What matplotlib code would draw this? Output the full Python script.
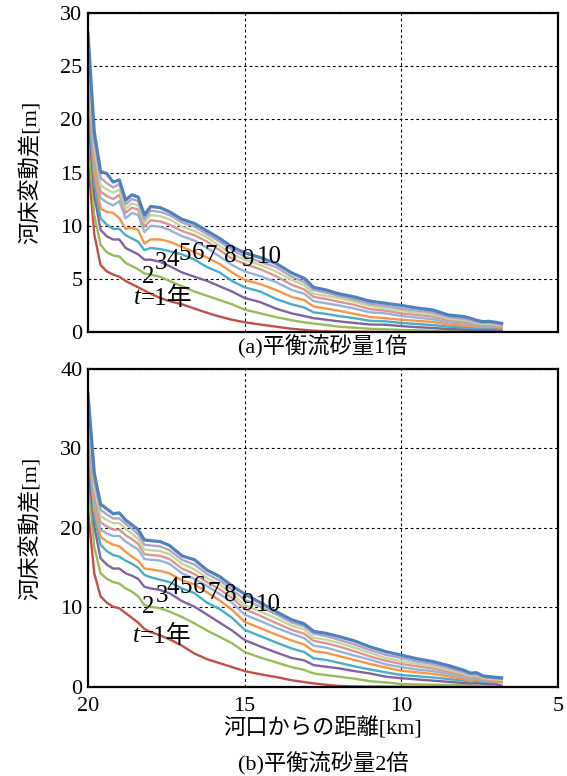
import matplotlib
matplotlib.use("Agg")
import matplotlib.pyplot as plt

# ---------------- data ----------------
km = [20.0, 19.8, 19.6, 19.4, 19.2, 19.0, 18.8, 18.6, 18.4, 18.2, 18.0, 17.7, 17.4, 17.0,
      16.6, 16.2, 15.8, 15.4, 15.0, 14.5, 14.0, 13.5, 13.1, 12.8, 12.4, 12.0, 11.5, 11.0,
      10.5, 10.0, 9.5, 9.0, 8.5, 8.0, 7.8, 7.6, 7.4, 7.2, 7.0, 6.8]

years = [1, 2, 3, 4, 5, 6, 7, 8, 9, 10]

# (a) equilibrium sediment x1
a_t1 = [16.2, 9.2, 6.3, 5.7, 5.4, 5.2, 4.8, 4.5, 4.2, 3.9, 3.6, 3.2, 2.9, 2.6, 2.2, 1.8, 1.45, 1.15, 0.92, 0.7,
        0.5, 0.3, 0.2, 0.12, 0.06, 0.03, 0.02, 0.01, 0.01, 0.0, 0.0, 0.0, 0.0, 0.0, 0.0, 0.0, 0.0, 0.0, 0.0, 0.0]
a_t2 = [18.8, 11.0, 8.2, 7.5, 7.2, 7.1, 6.5, 6.2, 5.9, 5.5, 5.4, 5.2, 4.8, 4.3, 3.8, 3.4, 3.0, 2.6, 2.1, 1.75,
        1.4, 1.1, 0.9, 0.8, 0.65, 0.5, 0.4, 0.3, 0.25, 0.2, 0.15, 0.12, 0.1, 0.08, 0.07, 0.06, 0.06, 0.06, 0.05, 0.04]
a_t3 = [20.9, 12.9, 9.6, 9.0, 8.7, 8.7, 7.9, 7.6, 7.3, 6.8, 6.8, 6.6, 6.2, 5.6, 5.2, 4.8, 4.3, 3.8, 3.2, 2.8,
        2.2, 1.75, 1.5, 1.3, 1.15, 1.0, 0.85, 0.7, 0.68, 0.55, 0.45, 0.38, 0.28, 0.24, 0.22, 0.2, 0.2, 0.2, 0.18, 0.1]
a_t4 = [22.3, 14.0, 10.7, 10.1, 9.7, 9.7, 9.1, 8.8, 8.5, 7.7, 7.9, 7.8, 7.6, 7.3, 6.8, 6.1, 5.6, 4.8, 4.2, 3.8,
        3.1, 2.6, 2.3, 1.85, 1.7, 1.5, 1.3, 1.05, 1.0, 0.85, 0.75, 0.65, 0.5, 0.42, 0.38, 0.35, 0.32, 0.33, 0.32, 0.3]
a_t5 = [24.0, 15.0, 11.6, 11.3, 11.2, 10.7, 9.7, 9.8, 9.6, 8.3, 8.7, 8.7, 8.5, 8.0, 7.5, 7.0, 6.4, 5.6, 4.9, 4.5,
        3.95, 3.3, 3.0, 2.4, 2.2, 2.0, 1.7, 1.4, 1.3, 1.15, 1.05, 0.95, 0.7, 0.6, 0.55, 0.5, 0.45, 0.48, 0.44, 0.42]
a_t6 = [24.8, 16.2, 12.6, 12.2, 11.9, 12.3, 10.7, 11.2, 11.0, 9.4, 10.0, 9.9, 9.6, 9.0, 8.6, 7.9, 7.1, 6.3, 5.7, 5.25,
        4.7, 3.95, 3.6, 2.9, 2.7, 2.5, 2.2, 1.85, 1.75, 1.5, 1.35, 1.2, 0.9, 0.8, 0.72, 0.62, 0.55, 0.58, 0.52, 0.5]
a_t7 = [25.4, 16.8, 13.2, 12.8, 12.5, 12.9, 11.2, 11.7, 11.5, 9.9, 10.5, 10.4, 10.1, 9.5, 9.1, 8.5, 7.7, 6.9, 6.4, 5.9,
        5.25, 4.45, 4.0, 3.3, 3.1, 2.85, 2.55, 2.15, 2.0, 1.75, 1.6, 1.45, 1.1, 0.97, 0.88, 0.75, 0.65, 0.68, 0.6, 0.55]
a_t8 = [26.0, 17.4, 13.8, 13.4, 13.1, 13.4, 11.6, 12.1, 11.9, 10.3, 11.0, 10.9, 10.6, 9.9, 9.5, 8.9, 8.1, 7.3, 6.8, 6.3,
        5.7, 4.9, 4.4, 3.6, 3.4, 3.2, 2.85, 2.45, 2.25, 2.0, 1.8, 1.65, 1.25, 1.1, 1.0, 0.85, 0.75, 0.78, 0.7, 0.62]
a_t9 = [26.8, 18.0, 14.5, 14.0, 13.6, 13.9, 12.0, 12.5, 12.3, 10.6, 11.4, 11.3, 11.0, 10.3, 9.9, 9.2, 8.5, 7.7, 7.1, 6.6,
        6.1, 5.2, 4.7, 3.95, 3.7, 3.4, 3.05, 2.65, 2.45, 2.2, 2.0, 1.85, 1.4, 1.25, 1.12, 0.95, 0.85, 0.88, 0.8, 0.7]
a_t10 = [28.1, 18.8, 15.1, 14.9, 14.1, 14.3, 12.4, 12.9, 12.7, 11.0, 11.8, 11.7, 11.3, 10.6, 10.2, 9.5, 8.8, 8.0, 7.45, 7.0,
         6.45, 5.55, 5.05, 4.2, 3.95, 3.6, 3.3, 2.9, 2.7, 2.5, 2.25, 2.07, 1.6, 1.45, 1.3, 1.1, 0.97, 1.0, 0.92, 0.8]

# (b) equilibrium sediment x2
b_t1 = [22.3, 14.3, 11.4, 10.6, 10.1, 9.9, 9.3, 8.7, 8.1, 7.3, 6.9, 6.5, 6.0, 5.2, 4.2, 3.5, 3.0, 2.5, 2.0, 1.6,
        1.25, 0.85, 0.62, 0.45, 0.28, 0.14, 0.08, 0.05, 0.04, 0.03, 0.02, 0.02, 0.01, 0.01, 0.0, 0.0, 0.0, 0.0, 0.0, 0.0]
b_t2 = [26.2, 17.6, 14.3, 13.6, 13.2, 13.0, 12.4, 12.0, 11.4, 10.3, 10.1, 9.9, 9.5, 8.8, 8.0, 7.1, 6.3, 5.5, 4.4, 3.7,
        3.1, 2.5, 2.15, 1.7, 1.5, 1.3, 1.05, 0.72, 0.58, 0.38, 0.32, 0.28, 0.25, 0.22, 0.2, 0.2, 0.19, 0.18, 0.17, 0.12]
b_t3 = [28.0, 20.2, 16.2, 15.4, 14.9, 14.9, 14.3, 14.0, 13.6, 12.6, 12.4, 12.2, 11.8, 10.8, 10.1, 9.1, 8.1, 7.1, 5.9, 5.1,
        4.35, 3.65, 3.35, 2.75, 2.55, 2.35, 2.0, 1.7, 1.3, 1.1, 0.95, 0.8, 0.65, 0.5, 0.45, 0.48, 0.42, 0.4, 0.38, 0.15]
b_t4 = [30.0, 21.4, 17.9, 17.1, 16.6, 16.4, 15.9, 15.5, 15.0, 14.1, 13.8, 13.5, 13.2, 12.4, 11.8, 10.6, 9.8, 8.7, 7.2, 6.4,
        5.6, 4.85, 4.4, 3.6, 3.4, 3.05, 2.6, 2.2, 1.85, 1.5, 1.35, 1.2, 1.0, 0.8, 0.7, 0.75, 0.65, 0.62, 0.6, 0.57]
b_t5 = [31.5, 22.5, 18.9, 18.3, 17.9, 17.7, 17.0, 16.4, 15.9, 14.9, 14.8, 14.6, 14.3, 13.4, 12.9, 11.9, 10.9, 9.7, 8.2, 7.4,
        6.6, 5.85, 5.35, 4.5, 4.3, 3.9, 3.4, 2.9, 2.45, 2.05, 1.85, 1.65, 1.35, 1.0, 0.85, 0.95, 0.78, 0.72, 0.68, 0.65]
b_t6 = [33.0, 23.5, 19.8, 19.3, 19.0, 19.0, 18.3, 17.8, 17.3, 16.1, 16.0, 15.9, 15.5, 14.3, 13.6, 12.7, 11.7, 10.6, 9.1, 8.3,
        7.45, 6.7, 6.15, 5.2, 4.95, 4.5, 3.95, 3.45, 2.85, 2.5, 2.2, 2.0, 1.65, 1.25, 1.1, 1.15, 0.9, 0.82, 0.78, 0.74]
b_t7 = [34.0, 24.4, 20.7, 20.2, 19.8, 19.8, 19.1, 18.6, 18.0, 16.7, 16.6, 16.5, 16.1, 14.9, 14.2, 13.2, 12.3, 11.2, 9.8, 8.95,
        8.05, 7.2, 6.7, 5.8, 5.5, 5.1, 4.5, 3.85, 3.3, 2.9, 2.6, 2.35, 1.9, 1.45, 1.25, 1.3, 1.0, 0.92, 0.87, 0.82]
b_t8 = [35.0, 25.2, 21.5, 21.0, 20.6, 20.6, 19.9, 19.3, 18.6, 17.3, 17.2, 17.1, 16.7, 15.5, 14.8, 13.7, 12.9, 11.7, 10.3, 9.5,
        8.65, 7.7, 7.25, 6.2, 5.95, 5.55, 4.95, 4.3, 3.65, 3.25, 2.9, 2.6, 2.15, 1.65, 1.4, 1.45, 1.12, 1.02, 0.96, 0.9]
b_t9 = [36.0, 26.0, 22.3, 21.7, 21.2, 21.2, 20.5, 19.9, 19.2, 17.9, 17.8, 17.7, 17.2, 16.0, 15.4, 14.2, 13.4, 12.2, 11.0, 10.1,
        9.15, 8.1, 7.65, 6.7, 6.4, 5.95, 5.35, 4.65, 4.05, 3.65, 3.2, 2.9, 2.4, 1.85, 1.55, 1.6, 1.25, 1.15, 1.08, 1.02]
b_t10 = [36.9, 26.9, 23.0, 22.4, 21.8, 21.9, 21.0, 20.4, 19.8, 18.5, 18.4, 18.3, 17.8, 16.5, 16.0, 14.7, 13.9, 12.7, 11.7, 10.6,
         9.5, 8.45, 7.95, 7.0, 6.75, 6.35, 5.8, 5.05, 4.45, 4.0, 3.55, 3.2, 2.7, 2.1, 1.75, 1.8, 1.4, 1.3, 1.22, 1.15]

series_a = [a_t1, a_t2, a_t3, a_t4, a_t5, a_t6, a_t7, a_t8, a_t9, a_t10]
series_b = [b_t1, b_t2, b_t3, b_t4, b_t5, b_t6, b_t7, b_t8, b_t9, b_t10]

year_labels = ["2", "3", "4", "5", "6", "7", "8", "9", "10"]
label_pos_a = [(18.08, 5.17), (17.66, 6.48), (17.28, 6.77), (16.9, 7.3), (16.5, 7.43),
               (16.1, 7.17), (15.47, 7.12), (14.92, 6.8), (14.22, 7.08)]
label_pos_b = [(18.08, 10.0), (17.64, 11.5), (17.28, 12.4), (16.89, 12.6), (16.46, 12.6),
               (15.98, 11.8), (15.47, 11.6), (14.92, 10.4), (14.24, 10.3)]
t1_pos_a = (18.31, 3.2)
t1_pos_b = (18.34, 6.4)

colors = ["#C0504D", "#9BBB59", "#8064A2", "#4BACC6", "#F79646",
          "#95B3D7", "#D99694", "#C3D69B", "#B3A2C7", "#4F81BD"]

FAM = ["Liberation Serif", "Noto Sans CJK JP", "DejaVu Sans"]
plt.rcParams["font.family"] = FAM
FS = 16
LFS = 18

fig = plt.figure(figsize=(5.67, 7.76), dpi=100)
axa = fig.add_axes([0.1552, 0.5722, 0.8289, 0.4110])
axb = fig.add_axes([0.1552, 0.1147, 0.8289, 0.4098])


def style(ax, ymax, ystep, show_x):
    ax.set_xlim(20, 5)
    ax.set_ylim(0, ymax)
    ax.set_xticks([20, 15, 10, 5])
    ax.set_yticks(list(range(0, ymax + 1, ystep)))
    ax.grid(True, color="black", linestyle=(0, (2.5, 2.5)), linewidth=0.8)
    ax.set_axisbelow(True)
    ax.tick_params(length=0, labelsize=FS, pad=4)
    if not show_x:
        ax.tick_params(axis="x", labelbottom=False)
    else:
        ax.tick_params(axis="x", pad=7)
    for s in ax.spines.values():
        s.set_linewidth(1.6)
        s.set_color("black")
        s.set_zorder(5)


for ax, series, ymax, ystep, show_x, lpos, tpos in [
        (axa, series_a, 30, 5, False, label_pos_a, t1_pos_a),
        (axb, series_b, 40, 10, True, label_pos_b, t1_pos_b)]:
    style(ax, ymax, ystep, show_x)
    for i, (yr, vals) in enumerate(zip(years, series)):
        ax.plot(km, vals, color=colors[i], lw=2.3 if yr == 10 else 1.7,
                solid_joinstyle="round", zorder=3)
    for lab, (x, y) in zip(year_labels, lpos):
        ax.text(x, y, lab, fontsize=LFS, ha="center", va="center", zorder=4)
    ax.text(tpos[0], tpos[1], "t", fontsize=LFS, style="italic", ha="right", va="center",
            family=["Liberation Serif"], zorder=4)
    ax.text(tpos[0], tpos[1], "=1年", fontsize=LFS, ha="left", va="center", family=FAM, zorder=4)

fig.text(0.0547, 1 - 172.5 / 776, "河床変動差[m]", rotation=90, fontsize=FS,
         ha="center", va="center")
fig.text(0.0547, 1 - 528 / 776, "河床変動差[m]", rotation=90, fontsize=FS,
         ha="center", va="center")
fig.text(323 / 567, 1 - 347 / 776, "(a)平衡流砂量1倍", fontsize=FS, ha="center", va="center")
fig.text(323 / 567, 1 - 728 / 776, "河口からの距離[km]", fontsize=FS, ha="center", va="center")
fig.text(323 / 567, 1 - 764 / 776, "(b)平衡流砂量2倍", fontsize=FS, ha="center", va="center")

fig.savefig("out.png", dpi=100)
